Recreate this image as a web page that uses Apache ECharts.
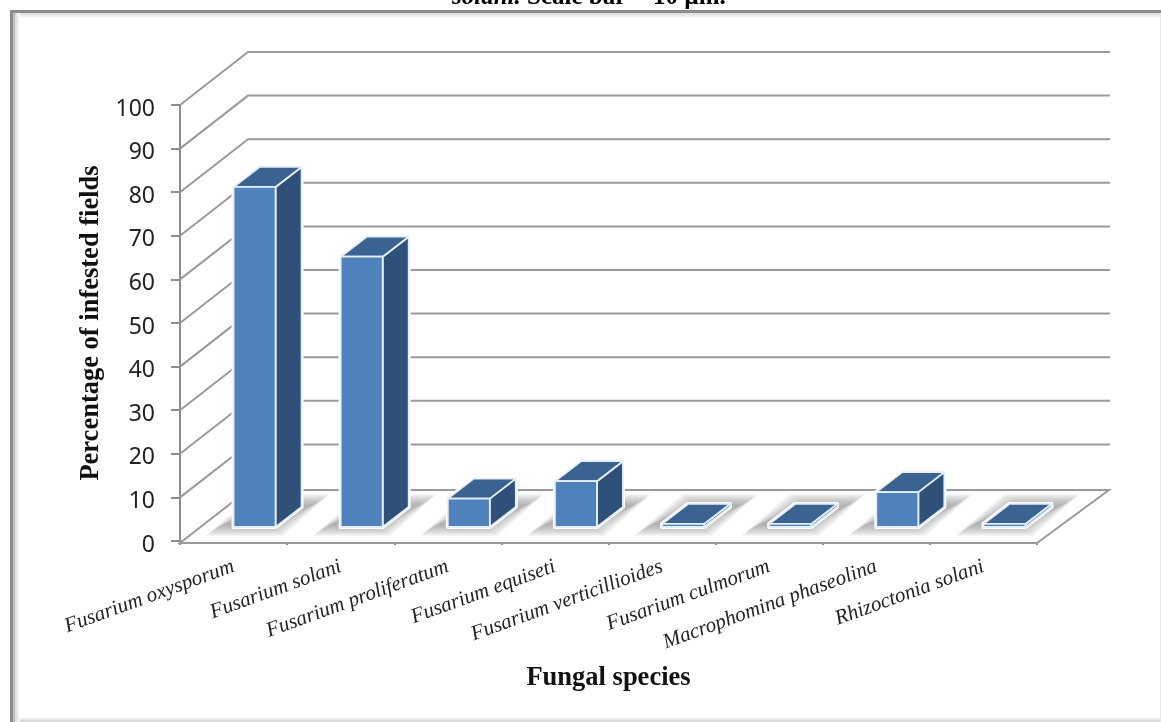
<!DOCTYPE html>
<html>
<head>
<meta charset="utf-8">
<title>Fungal species</title>
<script src="https://cdn.jsdelivr.net/npm/echarts@6/dist/echarts.min.js"></script>
<style>
html,body{margin:0;padding:0;background:#fff;overflow:hidden}
#chart{width:1161px;height:722px}
</style>
</head>
<body>
<div id="chart"></div>
<script>
// Percentage of infested fields per fungal species
const species = [
  'Fusarium oxysporum', 'Fusarium solani', 'Fusarium proliferatum', 'Fusarium equiseti',
  'Fusarium verticillioides', 'Fusarium culmorum', 'Macrophomina phaseolina', 'Rhizoctonia solani'
];
const infested = [78, 62, 6.5, 10.5, 0.7, 0.7, 8, 0.7];
const wallTicks = [10, 20, 30, 40, 50, 60, 70, 80, 90, 100];

// Pseudo-3D projection, in pixels
const WALL_DX = 68, WALL_DY = -53;     // depth of the chart box
const BAR_W = 42, BAR_DX = 26, BAR_DY = -20; // bar width and depth
const BAR_SHIFT_X = 21, BAR_SHIFT_Y = -14;   // bars stand inside the floor
const FLOOR_DROP = 2;

const GRID_COLOR = '#9a9a9a';
const SERIF = '"Liberation Serif", "Times New Roman", serif';

const chart = echarts.init(document.getElementById('chart'), null, { renderer: 'canvas' });

function renderWall(params, api) {
  const p = api.coord([0, api.value(1)]);
  const cs = params.coordSys;
  return {
    type: 'polyline',
    shape: { points: [[p[0] - cs.width / 16, p[1]], [cs.x + WALL_DX, p[1] + WALL_DY], [cs.x + cs.width + WALL_DX + 5, p[1] + WALL_DY]] },
    style: { stroke: GRID_COLOR, lineWidth: 2, fill: 'none' }
  };
}

function renderFloor(params, api) {
  const cs = params.coordSys;
  const y0 = api.coord([0, 0])[1] + FLOOR_DROP;
  const left = cs.x, right = cs.x + cs.width;
  return {
    type: 'polygon',
    shape: { points: [[left, y0], [right, y0], [right + WALL_DX + 4, y0 + WALL_DY], [left + WALL_DX, y0 + WALL_DY]] },
    style: { fill: '#fff', stroke: GRID_COLOR, lineWidth: 2 }
  };
}

// Soft shadow on the floor: stacked translucent parallelograms that fade outward
function renderShadow(params, api) {
  const p = api.coord([api.value(0), 0]);
  const cx = p[0], y = p[1];
  const layers = [];
  for (let k = 0; k < 12; k++) {
    const t = k * 1;
    layers.push({
      type: 'polygon',
      shape: { points: [
        [cx - 28 + t * 1.4, y - 5 - t],
        [cx + 50 - t * 1.4, y - 5 - t],
        [cx + 96 - t * 1.4, y - 47 + t],
        [cx + 20 + t * 1.4, y - 47 + t]
      ] },
      style: { fill: 'rgba(130,130,130,0.075)' }
    });
  }
  return { type: 'group', children: layers };
}

function renderBar(params, api) {
  const idx = api.value(0);
  const base = api.coord([idx, 0]);
  const top = api.coord([idx, api.value(1)]);
  const x0 = base[0] + BAR_SHIFT_X - BAR_W / 2;
  const x1 = x0 + BAR_W;
  const yb = base[1] + BAR_SHIFT_Y;
  const yt = top[1] + BAR_SHIFT_Y;
  const edge = { stroke: '#e6eef7', lineWidth: 1.8, lineJoin: 'round' };
  const silhouette = [[x0, yb], [x1, yb], [x1 + BAR_DX, yb + BAR_DY], [x1 + BAR_DX, yt + BAR_DY], [x0 + BAR_DX, yt + BAR_DY], [x0, yt]];
  return {
    type: 'group',
    children: [
      { type: 'polygon', shape: { points: silhouette }, style: { fill: '#fff', stroke: '#fff', lineWidth: 4, lineJoin: 'round' } },
      { type: 'polygon', shape: { points: [[x1, yb], [x1 + BAR_DX, yb + BAR_DY], [x1 + BAR_DX, yt + BAR_DY], [x1, yt]] }, style: Object.assign({ fill: '#2f5179' }, edge) },
      { type: 'polygon', shape: { points: [[x0, yt], [x1, yt], [x1 + BAR_DX, yt + BAR_DY], [x0 + BAR_DX, yt + BAR_DY]] }, style: Object.assign({ fill: '#3b6392' }, edge) },
      { type: 'rect', shape: { x: x0, y: yt, width: BAR_W, height: yb - yt }, style: Object.assign({ fill: '#4f81bd' }, edge) }
    ]
  };
}

chart.setOption({
  animation: false,
  backgroundColor: '#fff',
  grid: { left: 180, right: 124, top: 105, height: 436, containLabel: false },
  xAxis: {
    type: 'category',
    data: species,
    offset: FLOOR_DROP,
    name: 'Fungal species',
    nameLocation: 'middle',
    nameGap: 122,
    nameTextStyle: { fontFamily: SERIF, fontWeight: 'bold', fontSize: 26.5, color: '#111' },
    axisLine: { lineStyle: { color: GRID_COLOR, width: 2 } },
    axisTick: { show: true, length: 4, alignWithLabel: false, lineStyle: { color: '#8c8c8c', width: 2 } },
    axisLabel: { interval: 0, rotate: 20, margin: 23, hideOverlap: false, fontFamily: SERIF, fontStyle: 'italic', fontSize: 21, color: '#222' }
  },
  yAxis: {
    type: 'value',
    min: 0,
    max: 100,
    interval: 10,
    name: 'Percentage of infested fields',
    nameLocation: 'middle',
    nameRotate: 90,
    nameGap: 74,
    nameTextStyle: { fontFamily: SERIF, fontWeight: 'bold', fontSize: 26.5, color: '#111' },
    axisLine: { show: true, lineStyle: { color: '#8c8c8c', width: 2 } },
    axisTick: { show: true, length: 9, lineStyle: { color: '#8c8c8c', width: 2 } },
    axisLabel: { margin: 25, verticalAlign: 'top', lineHeight: 8, fontFamily: '"Noto Sans", "Open Sans", sans-serif', fontSize: 23, color: '#222' },
    splitLine: { show: false }
  },
  series: [
    { type: 'custom', name: 'wall', z: 1, silent: true, renderItem: renderWall,
      data: wallTicks.map(v => [0, v]) },
    { type: 'custom', name: 'floor', z: 2, silent: true, renderItem: renderFloor, data: [[0, 0]] },
    { type: 'custom', name: 'shadows', z: 3, silent: true, renderItem: renderShadow,
      data: species.map((s, i) => [i, 0]) },
    { type: 'custom', name: 'Percentage of infested fields', z: 4, renderItem: renderBar,
      encode: { x: 0, y: 1 },
      data: infested.map((v, i) => [i, v]) }
  ],
  graphic: [
    // Caption clipped by the top of the page
    { type: 'text', left: 452, top: -15, z: 20, silent: true,
      style: { text: '{i|solani.} {b|Scale bar = 10 µm.}',
        rich: {
          i: { fontFamily: SERIF, fontWeight: 'bold', fontStyle: 'italic', fontSize: 25, fill: '#000' },
          b: { fontFamily: SERIF, fontWeight: 'bold', fontSize: 25, fill: '#000' }
        },
        fontFamily: SERIF, fontWeight: 'bold', fontSize: 25, fill: '#000' } },
    // Outer frame
    { type: 'rect', z: 10, silent: true, shape: { x: 14, y: 13, width: 1147, height: 5 },
      style: { fill: { type: 'linear', x: 0, y: 0, x2: 0, y2: 1, colorStops: [{ offset: 0, color: '#d8d8d8' }, { offset: 1, color: '#ffffff' }] } } },
    { type: 'rect', z: 10, silent: true, shape: { x: 14, y: 13, width: 6, height: 709 },
      style: { fill: { type: 'linear', x: 0, y: 0, x2: 1, y2: 0, colorStops: [{ offset: 0, color: '#d0d0d0' }, { offset: 1, color: '#ffffff' }] } } },
    { type: 'rect', z: 11, silent: true, shape: { x: 10, y: 10, width: 1151, height: 3 }, style: { fill: '#8c8c8c' } },
    { type: 'rect', z: 11, silent: true, shape: { x: 10, y: 10, width: 3, height: 712 }, style: { fill: '#8c8c8c' } },
    { type: 'rect', z: 11, silent: true, shape: { x: 13, y: 13, width: 2, height: 709 }, style: { fill: '#bdbdbd' } },
    { type: 'rect', z: 11, silent: true, shape: { x: 20, y: 717, width: 1141, height: 5 },
      style: { fill: { type: 'linear', x: 0, y: 0, x2: 0, y2: 1, colorStops: [{ offset: 0, color: '#ffffff' }, { offset: 1, color: '#cfcfcf' }] } } },
    { type: 'rect', z: 11, silent: true, shape: { x: 1160, y: 13, width: 1, height: 709 }, style: { fill: '#e6e6e6' } }
  ]
});
</script>
</body>
</html>
